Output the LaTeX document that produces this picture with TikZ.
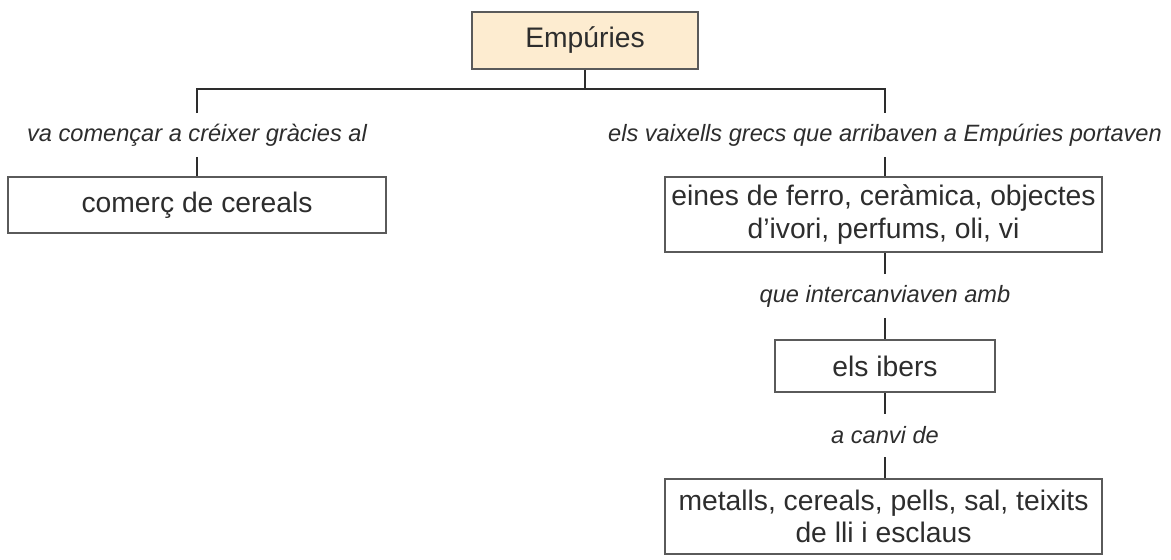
\documentclass[tikz,border=0pt]{standalone}
\usepackage{fontspec}
\setmainfont{Liberation Sans}
\definecolor{txt}{RGB}{45,45,45}
\definecolor{edge}{RGB}{90,90,90}
\definecolor{linec}{RGB}{45,45,45}
\definecolor{beige}{RGB}{253,236,208}
\begin{document}
\begin{tikzpicture}[x=0.75pt,y=-0.75pt,
  box/.style={draw=edge,line width=0.9pt,inner sep=0pt,align=center,text=txt,
    font=\fontsize{21.2}{24.5}\selectfont},
  lab/.style={inner sep=0pt,minimum height=32.25pt,text=txt,
    font=\fontsize{17.7}{20}\selectfont\itshape},
  conn/.style={draw=linec,line width=0.9pt}]
\useasboundingbox (0,0) rectangle (1171,560);
\node[box,fill=beige,minimum width=169.5pt,minimum height=42.75pt] (top) at (585,40.5) {Empúries};
\node[lab] (l1) at (197,135) {va començar a créixer gràcies al};
\node[lab] (l2) at (885,135) {els vaixells grecs que arribaven a Empúries portaven};
\node[box,minimum width=283.5pt,minimum height=42pt] (b1) at (197,205) {comerç de cereals};
\node[box,minimum width=327.75pt,minimum height=56.25pt] (b2) at (883.5,214.5) {eines de ferro, ceràmica, objectes\\d’ivori, perfums, oli, vi};
\node[lab] (l3) at (885,296) {que intercanviaven amb};
\node[box,minimum width=165pt,minimum height=39pt] (b3) at (885,366) {els ibers};
\node[lab] (l4) at (885,435.5) {a canvi de};
\node[box,minimum width=327.75pt,minimum height=56.25pt] (b4) at (883.5,516.5) {metalls, cereals, pells, sal, teixits\\de lli i esclaus};
\coordinate (j) at (585,89);
\draw[conn] (top.south) -- (j);
\draw[conn] (l1.north) -- (l1.north |- j) -- (l2.north |- j) -- (l2.north);
\draw[conn] (l1.south) -- (l1.south |- b1.north);
\draw[conn] (l2.south) -- (l2.south |- b2.north);
\draw[conn] (l3.north) -- (l3.north |- b2.south);
\draw[conn] (l3.south) -- (l3.south |- b3.north);
\draw[conn] (l4.north) -- (l4.north |- b3.south);
\draw[conn] (l4.south) -- (l4.south |- b4.north);
\end{tikzpicture}
\end{document}
